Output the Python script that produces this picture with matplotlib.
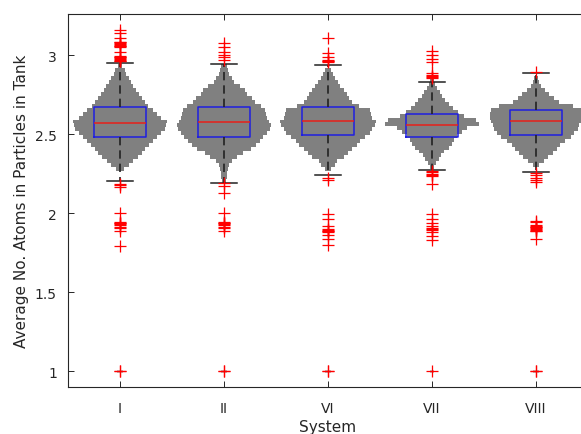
import matplotlib
matplotlib.use("Agg")
import matplotlib.pyplot as plt

systems = ["I", "II", "VI", "VII", "VIII"]

# box statistics
q1 = [2.483, 2.479, 2.494, 2.483, 2.496]
med = [2.570, 2.574, 2.582, 2.557, 2.580]
q3 = [2.669, 2.673, 2.669, 2.625, 2.654]
whis_lo = [2.205, 2.19, 2.24, 2.274, 2.262]
whis_hi = [2.947, 2.943, 2.937, 2.827, 2.886]

fliers_I = [3.16, 3.14, 3.11, 3.085, 3.08, 3.075, 3.07, 3.065, 3.06, 3.055, 3.05, 3.02,
            2.995, 2.99, 2.985, 2.98, 2.975, 2.97, 2.965, 2.96,
            2.185, 2.175, 2.165, 2.0, 1.945, 1.94, 1.935, 1.93, 1.925, 1.915, 1.905,
            1.89, 1.79, 1.0, 1.0]
fliers_II = [3.075, 3.05, 3.02, 3.0, 2.985, 2.97,
             2.19, 2.17, 2.13, 2.0, 1.945, 1.94, 1.935, 1.93, 1.925, 1.915, 1.905,
             1.89, 1.0, 1.0]
fliers_VI = [3.11, 3.015, 2.99, 2.97, 2.965, 2.96, 2.955,
             2.225, 2.21, 1.995, 1.965, 1.92, 1.9, 1.895, 1.89, 1.885, 1.88,
             1.86, 1.835, 1.8, 1.0, 1.0]
fliers_VII = [3.025, 3.0, 2.975, 2.955, 2.885, 2.875, 2.865, 2.86, 2.855,
              2.265, 2.258, 2.25, 2.243, 2.236, 2.185,
              1.995, 1.965, 1.94, 1.92, 1.905, 1.9, 1.895, 1.88, 1.855, 1.83, 1.0]
fliers_VIII = [2.895,
               2.255, 2.24, 2.225, 2.21, 2.2, 1.95, 1.945, 1.925, 1.92, 1.915,
               1.91, 1.905, 1.9, 1.895, 1.89, 1.885, 1.835, 1.0, 1.0]
fliers = [fliers_I, fliers_II, fliers_VI, fliers_VII, fliers_VIII]

# distribution (histogram) half widths, bins of 0.025 starting at bin_start
bin_step = 0.025
bin_start = [2.28, 2.205, 2.28, 2.29, 2.305]
hw_I = [0.035, 0.09, 0.125, 0.17, 0.21, 0.24, 0.28, 0.32, 0.36, 0.395, 0.43, 0.445,
        0.45, 0.395, 0.355, 0.32, 0.27, 0.24, 0.21, 0.18, 0.155, 0.13, 0.11, 0.085,
        0.06, 0.045, 0.02]
hw_II = [0.02, 0.025, 0.03, 0.035, 0.05, 0.08, 0.13, 0.18, 0.26, 0.31, 0.35, 0.38,
         0.41, 0.44, 0.45, 0.43, 0.41, 0.40, 0.39, 0.36, 0.30, 0.27, 0.22, 0.20, 0.15,
         0.10, 0.08, 0.05, 0.04, 0.03]
hw_VI = [0.03, 0.07, 0.09, 0.15, 0.19, 0.23, 0.28, 0.31, 0.36, 0.40, 0.42, 0.45, 0.46,
         0.42, 0.41, 0.40, 0.30, 0.23, 0.20, 0.18, 0.15, 0.12, 0.10, 0.07, 0.05, 0.03]
hw_VII = [0.02, 0.04, 0.07, 0.09, 0.12, 0.16, 0.19, 0.21, 0.24, 0.29, 0.34, 0.45, 0.42,
          0.31, 0.25, 0.20, 0.16, 0.13, 0.10, 0.08, 0.05, 0.03, 0.015]
hw_VIII = [0.03, 0.08, 0.12, 0.16, 0.20, 0.23, 0.28, 0.34, 0.37, 0.40, 0.41, 0.43, 0.44,
           0.44, 0.43, 0.36, 0.22, 0.17, 0.13, 0.09, 0.05, 0.03, 0.015]
half_widths = [hw_I, hw_II, hw_VI, hw_VII, hw_VIII]
low_bin_value = 1.0
low_bin_hw = [0.03, 0.03, 0.03, 0.02, 0.03]

fig = plt.figure(figsize=(5.81, 4.35), dpi=100)
ax = fig.add_axes([0.117, 0.108, 0.895, 0.8575])

txt = "#262626"
gray = "#808080"

for i, hws in enumerate(half_widths):
    pos = i + 1
    centers = [bin_start[i] + k * bin_step for k in range(len(hws))]
    ax.barh(centers, [2 * h for h in hws], height=bin_step,
            left=[pos - h for h in hws], color=gray, linewidth=0, zorder=1)
    ax.barh([low_bin_value], [2 * low_bin_hw[i]], height=0.02,
            left=[pos - low_bin_hw[i]], color=gray, alpha=0.5, linewidth=0, zorder=1)

stats = []
for i in range(len(systems)):
    stats.append(dict(med=med[i], q1=q1[i], q3=q3[i], whislo=whis_lo[i],
                      whishi=whis_hi[i], fliers=fliers[i], label=systems[i]))

ax.bxp(stats, positions=range(1, len(systems) + 1), widths=0.5, capwidths=0.25,
       boxprops=dict(color="#1f1fe0", linewidth=1.1),
       medianprops=dict(color="#e8201a", linewidth=1.1),
       whiskerprops=dict(color="#222222", linewidth=1.2, linestyle=(0, (5, 3))),
       capprops=dict(color="#222222", linewidth=1.1),
       flierprops=dict(marker="+", markeredgecolor="#ff0000", markersize=8,
                       markeredgewidth=0.9, linestyle="none"),
       zorder=3)

ax.set_xlim(0.5, 5.5)
ax.set_ylim(0.9, 3.26)
ax.set_yticks([1, 1.5, 2, 2.5, 3])
ax.set_yticklabels(["1", "1.5", "2", "2.5", "3"])
ax.set_xticks(range(1, len(systems) + 1))
ax.set_xticklabels(systems)

ax.tick_params(direction="in", length=4, width=0.7, colors=txt, labelsize=10,
               top=True, right=True)
ax.tick_params(axis="x", pad=10)
ax.tick_params(axis="y", pad=8)
for sp in ax.spines.values():
    sp.set_color(txt)
    sp.set_linewidth(0.8)

ax.set_xlabel("System", fontsize=11, color=txt, labelpad=3)
ax.set_ylabel("Average No. Atoms in Particles in Tank", fontsize=11, color=txt, labelpad=4)

fig.savefig("out.png", dpi=100)
